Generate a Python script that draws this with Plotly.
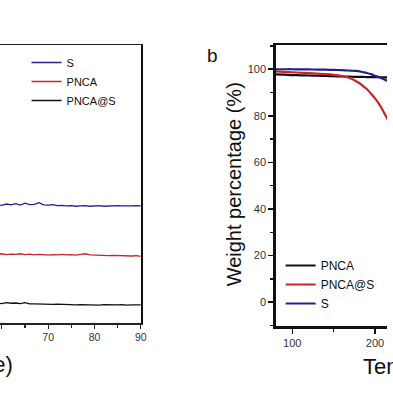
import plotly.graph_objects as go

# ---- Panel a (XRD-like, right part only) ----
xrd_x = list(range(59, 91))
xrd_S = [42.6, 42.3, 42.8, 42.5, 42.9, 42.4, 43.1, 42.6, 42.7, 43.3, 42.5, 42.4, 42.6, 42.2, 42.3, 42.1,
         42.2, 42.0, 42.1, 42.2, 42.0, 42.1, 42.2, 42.0, 42.1, 42.0, 42.2, 42.1, 42.0, 42.1, 42.2, 42.1]
xrd_PNCA = [24.7, 24.9, 24.6, 24.8, 24.7, 24.9, 24.6, 24.8, 24.5, 24.7, 24.6, 24.4, 24.6, 24.5, 24.7, 24.5,
            24.6, 24.4, 24.7, 24.9, 24.5, 24.4, 24.3, 24.4, 24.2, 24.3, 24.2, 24.1, 24.2, 24.1, 24.2, 24.0]
xrd_PNCAS = [7.2, 7.0, 7.3, 7.1, 7.2, 7.0, 7.3, 6.9, 6.9, 6.8, 6.9, 6.8, 6.7, 6.8, 6.7, 6.6,
             6.7, 6.5, 6.6, 6.5, 6.6, 6.5, 6.4, 6.6, 6.5, 6.4, 6.5, 6.6, 6.4, 6.5, 6.6, 6.5]

# ---- Panel b (TGA) ----
tga_x = [80, 90, 100, 110, 120, 130, 140, 150, 160, 165, 170, 175, 180, 185, 190, 195, 200, 205, 210, 215, 220, 230]
tga_PNCA = [97.8, 97.7, 97.5, 97.4, 97.3, 97.2, 97.1, 97.0, 96.9, 96.85, 96.8, 96.75, 96.7, 96.68, 96.65, 96.62,
            96.6, 96.58, 96.55, 96.52, 96.5, 96.45]
tga_PNCAS = [99.1, 98.9, 98.7, 98.5, 98.3, 98.1, 97.9, 97.6, 97.1, 96.7, 96.1, 95.3, 94.3, 93.0, 91.5, 89.6,
             87.5, 85.0, 82.0, 78.5, 75.0, 67.0]
tga_S = [100.0, 100.0, 100.0, 99.95, 99.9, 99.85, 99.8, 99.7, 99.6, 99.5, 99.4, 99.3, 99.2, 98.8, 98.4, 97.9,
         97.2, 96.6, 95.8, 95.0, 94.0, 91.8]

BLUE = "#23238f"
RED = "#c9232b"
BLACK = "#111111"
FONT = "Arial, Liberation Sans, sans-serif"
W = H = 393

fig = go.Figure()

# panel a
fig.add_trace(go.Scatter(x=xrd_x, y=xrd_S, mode="lines", name="S", line=dict(color=BLUE, width=1.3),
                         xaxis="x", yaxis="y", legend="legend"))
fig.add_trace(go.Scatter(x=xrd_x, y=xrd_PNCA, mode="lines", name="PNCA", line=dict(color=RED, width=1.3),
                         xaxis="x", yaxis="y", legend="legend"))
fig.add_trace(go.Scatter(x=xrd_x, y=xrd_PNCAS, mode="lines", name="PNCA@S", line=dict(color=BLACK, width=1.3),
                         xaxis="x", yaxis="y", legend="legend"))

# panel b
fig.add_trace(go.Scatter(x=tga_x, y=tga_PNCA, mode="lines", name="PNCA", line=dict(color=BLACK, width=2.2, shape="spline"),
                         xaxis="x2", yaxis="y2", legend="legend2"))
fig.add_trace(go.Scatter(x=tga_x, y=tga_PNCAS, mode="lines", name="PNCA@S", line=dict(color=RED, width=2.2, shape="spline"),
                         xaxis="x2", yaxis="y2", legend="legend2"))
fig.add_trace(go.Scatter(x=tga_x, y=tga_S, mode="lines", name="S", line=dict(color=BLUE, width=2.2, shape="spline"),
                         xaxis="x2", yaxis="y2", legend="legend2"))

def px(v):
    return v / W

def py(v):
    return 1 - v / H

tickfont_a = dict(family=FONT, size=10.5, color="#333333")
tickfont_b = dict(family=FONT, size=11, color="#333333")

fig.update_layout(
    width=W, height=H, autosize=False,
    margin=dict(l=0, r=0, t=0, b=0, pad=0),
    paper_bgcolor="white", plot_bgcolor="white",
    font=dict(family=FONT, color="#111111"),
    xaxis=dict(domain=[0, px(143)], range=[59.6, 90], showgrid=False, zeroline=False,
               showline=True, linecolor="#222222", linewidth=1.5, mirror=True,
               ticks="outside", ticklen=4, tickwidth=1.2, tickcolor="#222222",
               tick0=0, dtick=10, minor=dict(dtick=5, ticks="outside", ticklen=3, tickcolor="#222222"),
               tickfont=tickfont_a, anchor="y"),
    yaxis=dict(domain=[py(323), py(45)], range=[0, 100], side="right", showgrid=False, zeroline=False,
               showline=True, linecolor="#111111", linewidth=2, showticklabels=False, ticks="", anchor="x"),
    xaxis2=dict(domain=[px(280), 1], range=[80, 214.5], showgrid=False, zeroline=False,
                showline=True, linecolor="#111111", linewidth=2.5, mirror=True,
                ticks="outside", ticklen=5, tickwidth=1.5, tickcolor="#111111",
                tick0=0, dtick=100, minor=dict(dtick=50, ticks="outside", ticklen=3, tickcolor="#111111"),
                tickfont=tickfont_b, anchor="y2"),
    yaxis2=dict(domain=[py(326), py(45)], range=[-10.2, 110.4], showgrid=False, zeroline=False,
                showline=True, linecolor="#111111", linewidth=2.5,
                ticks="outside", ticklen=5, tickwidth=1.5, tickcolor="#111111",
                tick0=0, dtick=20, minor=dict(dtick=10, ticks="outside", ticklen=3, tickcolor="#111111"),
                tickfont=tickfont_b, anchor="x2"),
    legend=dict(x=px(27), y=py(48), xanchor="left", yanchor="top", bgcolor="rgba(0,0,0,0)",
                font=dict(family=FONT, size=11, color="#111111"), itemwidth=30, tracegroupgap=0),
    legend2=dict(x=px(285), y=py(251), xanchor="left", yanchor="top", bgcolor="rgba(0,0,0,0)",
                 font=dict(family=FONT, size=12, color="#111111"), itemwidth=30, tracegroupgap=0),
    showlegend=True,
    annotations=[
        dict(text="b", x=px(216), y=py(56), xref="paper", yref="paper", showarrow=False,
             font=dict(family=FONT, size=19, color="#111111"), xanchor="center", yanchor="middle"),
        dict(text="2θ (degree)", x=px(15), y=py(364), xref="paper", yref="paper", showarrow=False,
             font=dict(family=FONT, size=22, color="#111111"), xanchor="right", yanchor="middle"),
        dict(text="Temperature (°C)", x=px(367), y=py(366), xref="paper", yref="paper", showarrow=False,
             font=dict(family=FONT, size=22, color="#111111"), xanchor="left", yanchor="middle"),
        dict(text="Weight percentage (%)", x=px(238), y=py(184), xref="paper", yref="paper", showarrow=False,
             textangle=-90, font=dict(family=FONT, size=20, color="#111111"), xanchor="center", yanchor="middle"),
    ],
)

fig.write_html("out.html",
               config=dict(displayModeBar=False, responsive=False, staticPlot=True),
               post_script="document.documentElement.style.margin='0';document.body.style.margin='0';"
                           "document.body.style.padding='0';document.body.style.overflow='hidden';")
